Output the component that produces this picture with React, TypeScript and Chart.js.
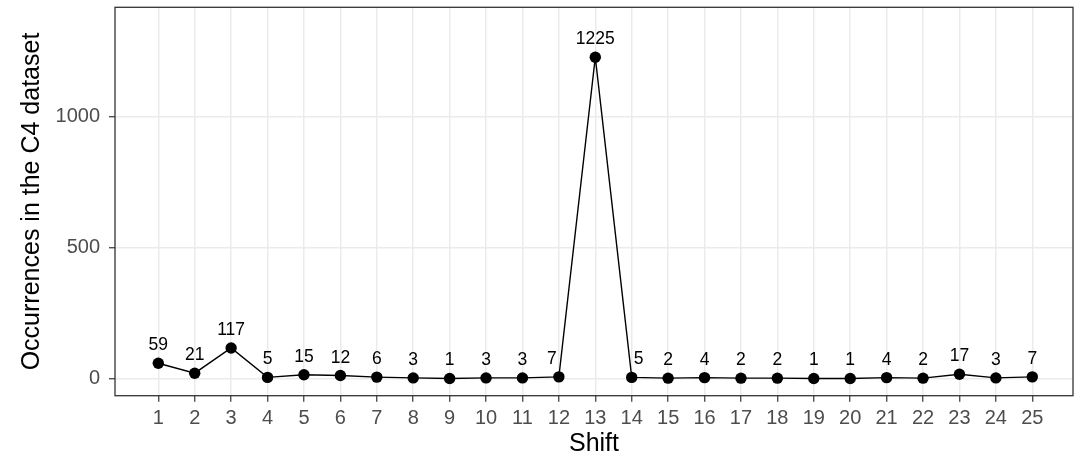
import React, { useEffect, useRef } from "react";
import { Chart, registerables } from "chart.js";

Chart.register(...registerables);

const shifts: number[] = [1, 2, 3, 4, 5, 6, 7, 8, 9, 10, 11, 12, 13, 14, 15, 16, 17, 18, 19, 20, 21, 22, 23, 24, 25];
const occurrences: number[] = [59, 21, 117, 5, 15, 12, 6, 3, 1, 3, 3, 7, 1225, 5, 2, 4, 2, 2, 1, 1, 4, 2, 17, 3, 7];
// horizontal nudge of the value labels (in shift units)
const labelNudge: number[] = [0, 0, 0, 0, 0, 0, 0, 0, 0, 0, 0, -0.19, 0, 0.19, 0, 0, 0, 0, 0, 0, 0, 0, 0, 0, 0];
const yTickValues: number[] = [0, 500, 1000];
const xTitle = "Shift";
const yTitle = "Occurrences in the C4 dataset";

const FONT = "'Liberation Sans', Arial, Helvetica, sans-serif";

const panelBorder = {
  id: "panelBorder",
  afterDraw(chart: any) {
    const { ctx, chartArea } = chart;
    ctx.save();
    ctx.strokeStyle = "#333333";
    ctx.lineWidth = 1.3;
    ctx.strokeRect(chartArea.left, chartArea.top, chartArea.right - chartArea.left, chartArea.bottom - chartArea.top);
    ctx.restore();
  },
};

const valueLabels = {
  id: "valueLabels",
  afterDatasetsDraw(chart: any) {
    const { ctx } = chart;
    const xs = chart.scales.x;
    const ys = chart.scales.y;
    ctx.save();
    ctx.fillStyle = "#000000";
    ctx.font = `17.5px ${FONT}`;
    ctx.textAlign = "center";
    ctx.textBaseline = "alphabetic";
    shifts.forEach((s, i) => {
      const v = occurrences[i];
      const px = xs.getPixelForValue(s + labelNudge[i]);
      const py = ys.getPixelForValue(v);
      ctx.fillText(String(v), px, py - 13);
    });
    ctx.restore();
  },
};

function zeroPad(scale: any) {
  scale.paddingTop = 0;
  scale.paddingBottom = 0;
  scale.paddingLeft = 0;
  scale.paddingRight = 0;
}

export default function App() {
  const ref = useRef<HTMLCanvasElement | null>(null);
  useEffect(() => {
    if (!ref.current) return;
    const chart = new Chart(ref.current, {
      type: "line",
      data: {
        datasets: [
          {
            data: shifts.map((s, i) => ({ x: s, y: occurrences[i] })),
            borderColor: "#000000",
            borderWidth: 1.4,
            backgroundColor: "#000000",
            pointRadius: 5.7,
            pointBorderWidth: 0,
            pointBackgroundColor: "#000000",
            tension: 0,
            fill: false,
          },
        ],
      },
      options: {
        animation: false,
        responsive: false,
        maintainAspectRatio: false,
        layout: { autoPadding: false, padding: { top: 7.3, right: 1, left: 0, bottom: 0 } },
        plugins: { legend: { display: false }, tooltip: { enabled: false }, title: { display: false } },
        scales: {
          x: {
            type: "linear",
            min: -0.189,
            max: 26.118,
            afterBuildTicks: (scale: any) => {
              scale.ticks = shifts.map((v) => ({ value: v }));
            },
            afterFit: (scale: any) => {
              scale.height = 62.3;
              zeroPad(scale);
            },
            grid: {
              color: "#ebebeb",
              lineWidth: 1.5,
              drawTicks: true,
              tickLength: 6,
              tickColor: "#333333",
              tickWidth: 1.2,
            },
            border: { display: false },
            ticks: {
              autoSkip: false,
              maxRotation: 0,
              padding: 4.5,
              color: "#4d4d4d",
              font: { family: FONT, size: 20 },
              callback: (v: any) => String(v),
            },
            title: {
              display: true,
              text: xTitle,
              color: "#000000",
              font: { family: FONT, size: 25, lineHeight: 1.12 },
              padding: { top: 0, bottom: 0 },
            },
          },
          y: {
            type: "linear",
            min: -64.8,
            max: 1415.4,
            afterBuildTicks: (scale: any) => {
              scale.ticks = yTickValues.map((v) => ({ value: v }));
            },
            afterFit: (scale: any) => {
              scale.width = 115;
              zeroPad(scale);
            },
            grid: {
              color: "#ebebeb",
              lineWidth: 1.5,
              drawTicks: true,
              tickLength: 6,
              tickColor: "#333333",
              tickWidth: 1.2,
            },
            border: { display: false },
            ticks: {
              padding: 9,
              color: "#4d4d4d",
              font: { family: FONT, size: 20 },
              callback: (v: any) => String(v),
            },
            title: {
              display: true,
              text: yTitle,
              color: "#000000",
              font: { family: FONT, size: 25 },
              padding: { top: 17, bottom: 0 },
            },
          },
        },
      },
      plugins: [panelBorder, valueLabels],
    });
    return () => chart.destroy();
  }, []);
  return (
    <div style={{ position: "absolute", left: 0, top: 0, width: 1074, height: 458, overflow: "hidden", background: "#ffffff" }}>
      <canvas ref={ref} width={1074} height={458} style={{ display: "block", width: 1074, height: 458 }} />
    </div>
  );
}
